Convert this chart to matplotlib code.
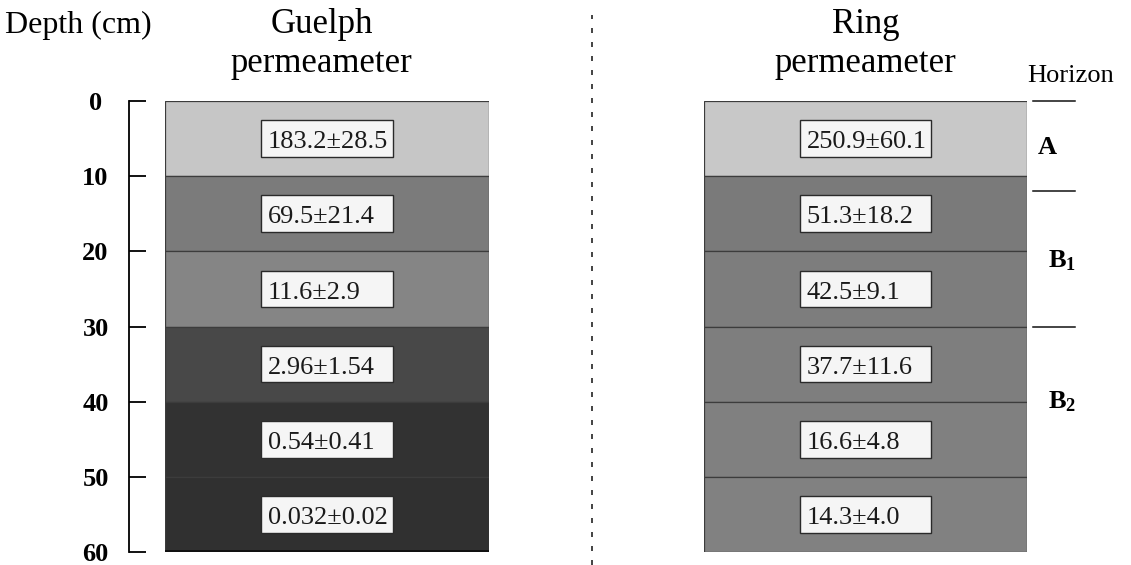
import matplotlib
matplotlib.use("Agg")
import matplotlib.pyplot as plt
from matplotlib.patches import Rectangle
from matplotlib.lines import Line2D
from matplotlib.transforms import blended_transform_factory

plt.rcParams['font.family'] = ['Liberation Serif', 'DejaVu Serif']
plt.rcParams['mathtext.fontset'] = 'custom'
plt.rcParams['mathtext.rm'] = 'Liberation Serif'
plt.rcParams['mathtext.bf'] = 'Liberation Serif:bold'

# soil layers, depth in cm
layer_top = [0, 10, 20, 30, 40, 50]
layer_thick = [10, 10, 10, 10, 10, 10]

guelph_k = ['183.2±28.5', '69.5±21.4', '11.6±2.9', '2.96±1.54', '0.54±0.41', '0.032±0.02']
ring_k = ['250.9±60.1', '51.3±18.2', '42.5±9.1', '37.7±11.6', '16.6±4.8', '14.3±4.0']

guelph_shades = ['#c6c6c6', '#7b7b7b', '#858585', '#484848', '#323232', '#303030']
ring_shades = ['#c8c8c8', '#7a7a7a', '#7d7d7d', '#7e7e7e', '#808080', '#818181']

# horizon boundaries and labels
horizon_bounds = [0, 12, 30]
horizon_names = ['A', r'$\mathbf{B_1}$', r'$\mathbf{B_2}$']
horizon_mid = [6.2, 21.3, 40.0]

W, H = 1131, 565
fig = plt.figure(figsize=(W / 100, H / 100), dpi=100)


def px_axes(x0, x1, y0, y1):
    return fig.add_axes([x0 / W, 1 - y1 / H, (x1 - x0) / W, (y1 - y0) / H])


def draw_column(ax, shades, labels):
    ax.bar(0.5, layer_thick, bottom=layer_top, width=1.0, color=shades,
           edgecolor='#3c3c3c', linewidth=0.9, align='center')
    for top, th, lab in zip(layer_top, layer_thick, labels):
        mid = top + th / 2
        ax.add_patch(Rectangle((0.296, mid - 2.45), 0.408, 4.9,
                               facecolor='#f5f5f5', edgecolor='#2a2a2a',
                               linewidth=1.0, zorder=3))
        ax.text(0.318, mid + 0.15, lab, ha='left', va='center_baseline',
                fontsize=19, color='#1a1a1a', zorder=4)
    ax.set_xlim(0, 1)
    ax.set_ylim(60, 0)
    ax.set_xticks([])
    for s in ['top', 'right', 'bottom']:
        ax.spines[s].set_visible(False)


ax1 = px_axes(165, 489, 101, 552)
draw_column(ax1, guelph_shades, guelph_k)
ax1.axhline(60, color='#111111', linewidth=2.8, zorder=5)
ax1.spines['left'].set_position(('outward', 26))
ax1.spines['left'].set_linewidth(1.3)
ax1.set_yticks(range(0, 61, 10))
ax1.tick_params(axis='y', direction='in', length=12, width=1.3, pad=24,
                labelsize=19)
for t in ax1.get_yticklabels():
    t.set_fontweight('bold')
    t.set_horizontalalignment('center')
ax1.text(0.483, -9.0, 'Guelph', ha='center', va='baseline', fontsize=25,
         clip_on=False)
ax1.text(0.483, -3.9, 'permeameter', ha='center', va='baseline', fontsize=25,
         clip_on=False)

ax2 = px_axes(704, 1027, 101, 552)
draw_column(ax2, ring_shades, ring_k)
ax2.spines['left'].set_visible(False)
ax2.set_yticks([])
ax2.text(0.5, -9.0, 'Ring', ha='center', va='baseline', fontsize=25,
         clip_on=False)
ax2.text(0.5, -3.9, 'permeameter', ha='center', va='baseline', fontsize=25,
         clip_on=False)

# horizon markers to the right of the ring column
tr = blended_transform_factory(ax2.transAxes, ax2.transData)
for d in horizon_bounds:
    ax2.add_line(Line2D([1.019, 1.150], [d, d], transform=tr, color='#111111',
                        linewidth=1.1, clip_on=False))
for i, (name, y) in enumerate(zip(horizon_names, horizon_mid)):
    ax2.text(1.034 if i == 0 else 1.064, y, name, transform=tr, ha='left',
             va='center', fontsize=19, fontweight='bold', clip_on=False)
ax2.text(1.135, -3.3, 'Horizon', transform=tr, ha='center', va='center',
         fontsize=19, clip_on=False)

fig.text(5 / W, 1 - 33 / H, 'Depth (cm)', ha='left', va='baseline', fontsize=23)

# dashed divider between the two methods
fig.add_artist(Line2D([592 / W, 592 / W], [0, 1 - 15 / H], color='#222222',
                      linewidth=1.2, dashes=(3, 5.4)))

fig.savefig('out.png', dpi=100)
